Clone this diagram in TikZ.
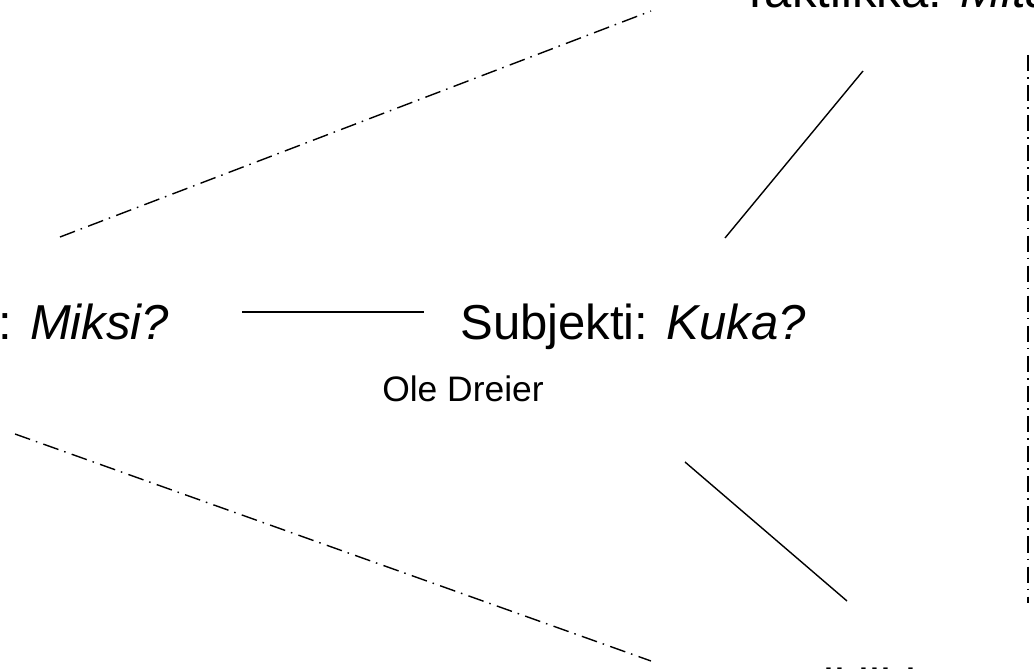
\documentclass[tikz,border=0pt]{standalone}
\usepackage{fontspec}
\setmainfont{Liberation Sans}
\begin{document}
\begin{tikzpicture}[x=0.025cm, y=-0.025cm]

\tikzstyle{bigtext}=[inner sep=0pt, font=\fontsize{34.9}{40}\selectfont]
\tikzstyle{smalltext}=[inner sep=0pt, font=\fontsize{25.2}{30}\selectfont]
\tikzstyle{link}=[line width=1pt]
\tikzstyle{dashlink}=[line width=1pt, dash pattern=on 11.4pt off 4.3pt on 1.1pt off 4.6pt]

\useasboundingbox (0,0) rectangle (1034,669);
\clip (0,0) rectangle (1034,669);

\node (subj) [bigtext, anchor=base west] at (460,340) {Subjekti: \textit{Kuka?}};
\node (name) [smalltext, anchor=base west] at (382,402) {Ole Dreier};
\node (why) [bigtext, anchor=base west] at (-2,340) {: \textit{Miksi?}};
\node (tact) [bigtext, anchor=base west] at (740,8) {Taktiikka: \textit{Mitä}};
\node (pol) [bigtext, anchor=base west] at (763,703) {Politiikka: \textit{Mi}};

\coordinate (h1) at (242,312);
\coordinate (h2) at (424,312);
\coordinate (u1) at (725,238);
\coordinate (u2) at (863,71);
\coordinate (d1) at (685,462);
\coordinate (d2) at (847,601);
\coordinate (a1) at (60,237);
\coordinate (a2) at (651,11);
\coordinate (b1) at (15,434);
\coordinate (b2) at (651,661);
\coordinate (v1) at (1028,55);
\coordinate (v2) at (1028,603);

\draw [link] (h1) -- (h2);
\draw [link] (u1) -- (u2);
\draw [link] (d1) -- (d2);
\draw [dashlink] (a1) -- (a2);
\draw [dashlink] (b1) -- (b2);
\draw [dashlink] (v1) -- (v2);

\end{tikzpicture}
\end{document}
